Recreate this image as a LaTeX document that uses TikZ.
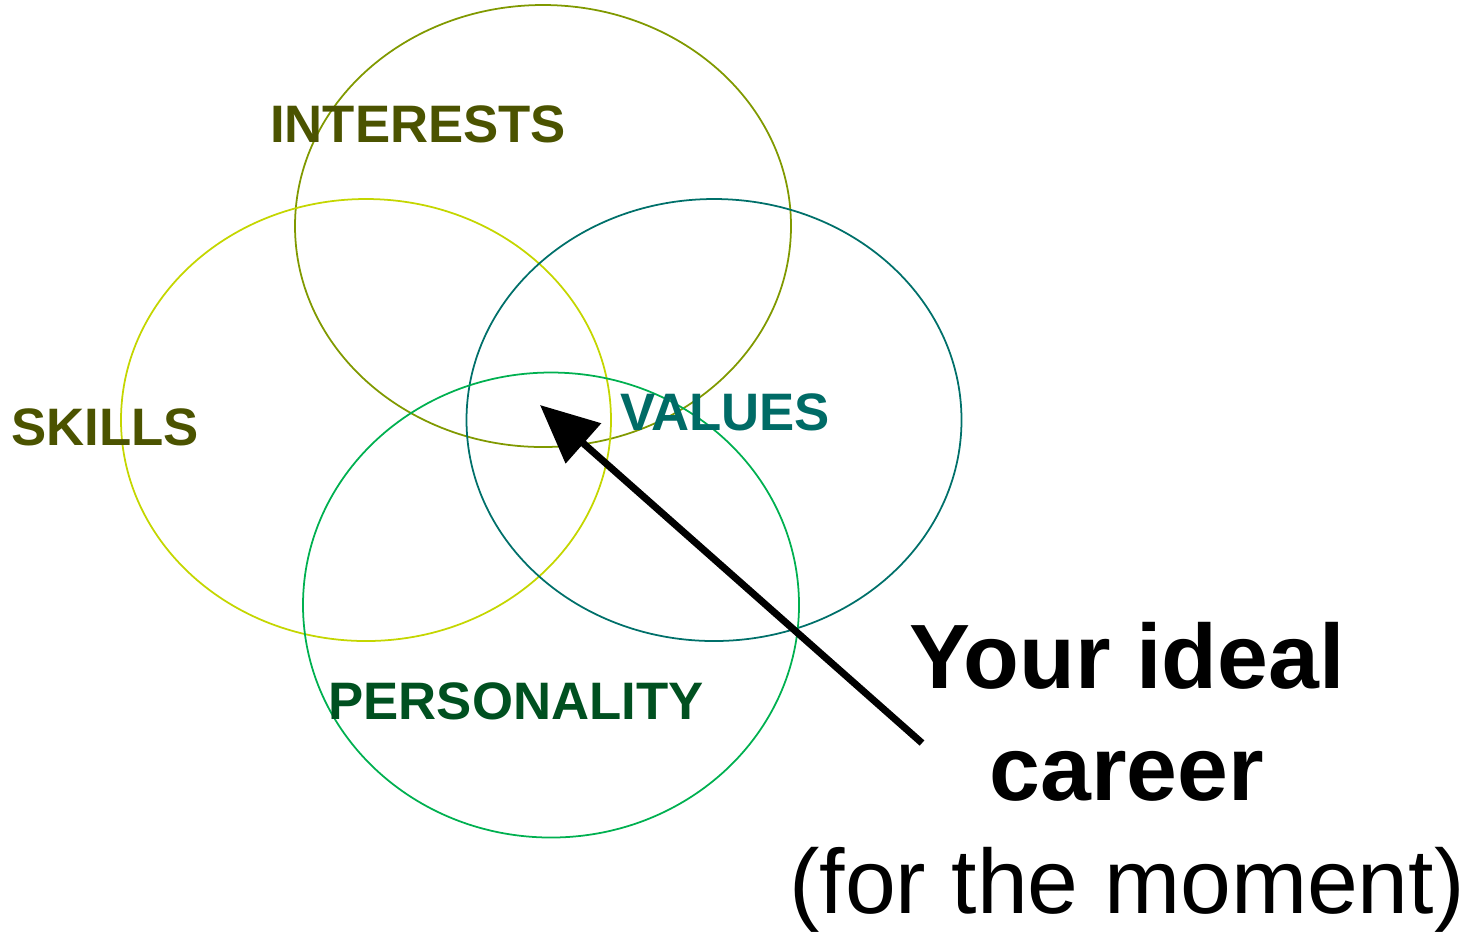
\documentclass[tikz,border=0pt]{standalone}
\usepackage{fontspec}
\setmainfont{Liberation Sans}
\usepackage{tikz}
\usetikzlibrary{shapes.geometric}
\usetikzlibrary{arrows.meta}
\definecolor{olivetext}{RGB}{75,83,0}
\definecolor{oliveline}{RGB}{128,153,0}
\definecolor{limeline}{RGB}{196,214,0}
\definecolor{tealline}{RGB}{0,112,106}
\definecolor{tealtext}{RGB}{0,107,102}
\definecolor{greenline}{RGB}{0,176,80}
\definecolor{greentext}{RGB}{0,80,32}
\tikzset{
    circlebox/.style={ % One set of the diagram
        ellipse,
        draw,
        line width=0.5pt,
        inner sep=0pt,
        minimum width=4.96cm,
        minimum height=4.42cm
    },
    setlabel/.style={ % Name of a set
        font=\fontsize{15}{18}\selectfont\bfseries
    },
    pointer/.style={ % The big arrow
        draw,
        line width=2pt,
        -{Triangle[length=0.58cm,width=0.52cm]}
    }
}

\begin{document}
\begin{tikzpicture}
            \useasboundingbox (0,0) rectangle (14.79,-9.37);

            \node[circlebox, draw=oliveline] (interests) at (5.43,-2.26) {};
            \node[circlebox, draw=limeline, minimum width=4.90cm] (skills) at (3.66,-4.20) {};
            \node[circlebox, draw=tealline, minimum width=4.95cm] (values) at (7.14,-4.20) {};
            \node[circlebox, draw=greenline, minimum height=4.65cm] (personality) at (5.51,-6.05) {};

            \node[setlabel, text=olivetext] (interestslabel) at (4.18,-1.24) {INTERESTS};
            \node[setlabel, text=olivetext] (skillslabel) at (1.05,-4.27) {SKILLS};
            \node[setlabel, text=tealtext] (valueslabel) at (7.25,-4.12) {VALUES};
            \node[setlabel, text=greentext] (personalitylabel) at (5.16,-7.01) {PERSONALITY};

            % base anchor sits on the last line
            \node[anchor=base, align=center, font=\fontsize{26}{31.9}\selectfont] (career) at (11.27,-9.13)
                {\textbf{Your ideal}\\\textbf{career}\\(for the moment)};

            \coordinate (tail) at (9.22,-7.43);
            \coordinate (centre) at (5.40,-4.05);
            \draw[pointer] (tail) -- (centre);
        \end{tikzpicture}
\end{document}
